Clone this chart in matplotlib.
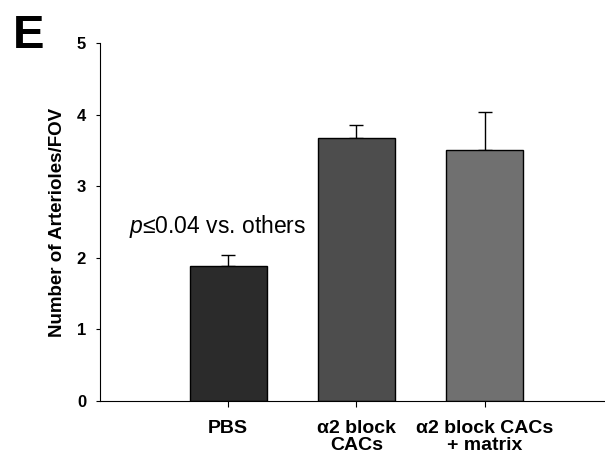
import matplotlib
matplotlib.use("Agg")
import matplotlib.pyplot as plt

plt.rcParams['font.family'] = ['Liberation Sans', 'DejaVu Sans']
plt.rcParams['mathtext.fontset'] = 'custom'
plt.rcParams['mathtext.it'] = 'Liberation Sans:italic'
plt.rcParams['mathtext.rm'] = 'Liberation Sans'

# Data
groups = ["PBS", "\u03b12 block\nCACs", "\u03b12 block CACs\n+ matrix"]
means = [1.89, 3.67, 3.50]
sems = [0.15, 0.19, 0.54]
colors = ["#2b2b2b", "#4d4d4d", "#707070"]

fig = plt.figure(figsize=(6.05, 4.57), dpi=100)
ax = fig.add_axes([100/605, 56/457, 505/605, 358/457])

x = range(len(groups))
ax.bar(x, means, width=0.6, color=colors, edgecolor="black", linewidth=1.0, zorder=2)
ax.errorbar(x, means, yerr=[[0]*len(sems), sems], fmt="none", ecolor="black",
            elinewidth=1.0, capsize=5, capthick=1.0, zorder=1)

ax.set_xlim(-1, 2.94)
ax.set_ylim(0, 5)
ax.set_yticks([0, 1, 2, 3, 4, 5])
ax.set_xticks(list(x))
ax.set_xticklabels(groups, fontsize=14, fontweight="bold", linespacing=0.95)
for lab in ax.get_yticklabels():
    lab.set_fontweight("bold")
    lab.set_fontsize(12)
ax.tick_params(axis="y", direction="out", length=3, pad=7)
ax.tick_params(axis="x", direction="out", length=4, pad=10)
ax.spines["top"].set_visible(False)
ax.spines["right"].set_visible(False)
ax.set_ylabel("Number of Arterioles/FOV", fontsize=13.5, fontweight="bold", labelpad=8)

ax.text(-0.775, 2.34, r"$\it{p}$" + "\u22640.04 vs. others", fontsize=16.5, ha="left", va="baseline")
fig.text(13/605, 1 - 48/457, "E", fontsize=34, fontweight="bold", ha="left", va="baseline")

fig.savefig("out.png", dpi=100)
